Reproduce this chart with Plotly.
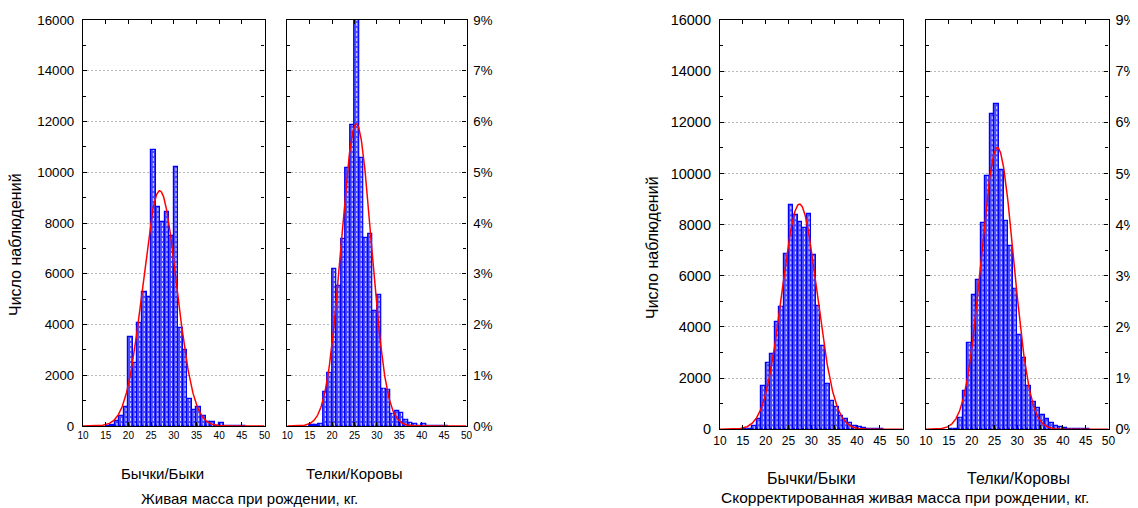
import numpy as np
import plotly.graph_objects as go

# ---------------- data ----------------
bin_left = list(range(15, 46))  # 1-kg bins, left edges 15..45

bulls_raw = [0, 30, 200, 400, 750, 3490, 2490, 4045, 5280, 5100, 10875, 8620, 8050, 8450, 7490,
             10210, 3850, 2985, 1060, 620, 755, 400, 170, 170, 0, 100, 0, 0, 0, 0, 0]
cows_raw = [20, 20, 90, 1340, 2090, 6175, 5520, 7360, 10165, 11850, 16400, 10560, 7400, 7560, 4540,
            5150, 1475, 1435, 490, 590, 515, 250, 130, 90, 0, 90, 0, 0, 0, 0, 0]
bulls_adj = [0, 20, 130, 400, 1710, 2600, 2930, 4180, 4800, 6870, 8780, 8380, 8090, 7860, 8400,
             6800, 4830, 3250, 1780, 1120, 880, 530, 400, 240, 120, 90, 40, 20, 10, 10, 10]
cows_adj = [0, 20, 460, 1505, 3380, 5250, 5840, 8050, 9920, 12320, 12700, 10120, 8150, 7150, 5500,
            3680, 2790, 1700, 1060, 825, 560, 390, 235, 145, 80, 40, 20, 10, 0, 0, 0]

# fitted normal curves: (mean, sd, N)
fit_bulls_raw = (26.9, 3.7, 86000)
fit_cows_raw = (25.4, 3.35, 100000)
fit_bulls_adj = (27.4, 3.85, 85000)
fit_cows_adj = (25.65, 3.55, 98000)

count_ticks = [0, 2000, 4000, 6000, 8000, 10000, 12000, 14000, 16000]
count_labels = [str(v) for v in count_ticks]
pct_labels = ["0%", "1%", "2%", "3%", "4%", "5%", "6%", "7%", "9%"]
x_ticks = [10, 15, 20, 25, 30, 35, 40, 45, 50]

group_names = ["Бычки/Быки", "Телки/Коровы"]
title_left = "Живая масса при рождении, кг."
title_right = "Скорректированная живая масса при рождении, кг."
y_title = "Число наблюдений"

# ---------------- figure ----------------
W, H = 1138, 508
OFF = 8  # page body margin offset
FONT = "Liberation Sans, Arial, sans-serif"

def px_x(a, b):
    return [(a - OFF) / W, (b - OFF) / W]

def px_y(top, bottom):
    return [1 - (bottom - OFF) / H, 1 - (top - OFF) / H]

panels = [
    dict(data=bulls_raw, fit=fit_bulls_raw, xd=px_x(83, 264.5), yd=px_y(20, 426), side="left", lab=count_labels, xf=10, yf=13.3, so=5),
    dict(data=cows_raw, fit=fit_cows_raw, xd=px_x(287.3, 466.5), yd=px_y(20, 426), side="right", lab=pct_labels, xf=10, yf=13.3, so=3),
    dict(data=bulls_adj, fit=fit_bulls_adj, xd=px_x(720, 902.7), yd=px_y(20, 429.3), side="left", lab=count_labels, xf=12, yf=14.5, so=5),
    dict(data=cows_adj, fit=fit_cows_adj, xd=px_x(926, 1108.5), yd=px_y(20, 429.3), side="right", lab=pct_labels, xf=12, yf=14.5, so=3),
]

fig = go.Figure()
centers = [b + 0.5 for b in bin_left]
xs_curve = np.linspace(10, 50, 401)

for i, p in enumerate(panels):
    k = "" if i == 0 else str(i + 1)
    xa, ya = "x" + k, "y" + k
    fig.add_trace(go.Bar(
        x=centers, y=p["data"], width=1.0, xaxis=xa, yaxis=ya,
        marker=dict(color="#4a4aff", line=dict(color="#0000ff", width=1.2)),
        showlegend=False, hoverinfo="x+y"))
    # white dashed hatch line in the middle of each bar
    hx, hy = [], []
    for c, v in zip(centers, p["data"]):
        if v > 60:
            hx += [c, c, None]
            hy += [0, v, None]
    fig.add_trace(go.Scatter(
        x=hx, y=hy, mode="lines", xaxis=xa, yaxis=ya,
        line=dict(color="rgba(255,255,255,0.85)", width=1, dash="3px,2px"),
        showlegend=False, hoverinfo="skip"))
    m, s, n = p["fit"]
    yc = n / (s * np.sqrt(2 * np.pi)) * np.exp(-0.5 * ((xs_curve - m) / s) ** 2)
    fig.add_trace(go.Scatter(
        x=xs_curve, y=yc, mode="lines", xaxis=xa, yaxis=ya,
        line=dict(color="#ff0000", width=1.5), showlegend=False, hoverinfo="skip"))

    fig.layout["xaxis" + k] = dict(
        domain=p["xd"], anchor=ya, range=[10, 50], tickvals=x_ticks, automargin=False,
        ticks="inside", ticklen=4, tickcolor="black", showline=True, linecolor="black",
        linewidth=1.2, mirror="allticks", showgrid=False, zeroline=False,
        tickfont=dict(family=FONT, size=p["xf"], color="black"))
    fig.layout["yaxis" + k] = dict(
        domain=p["yd"], anchor=xa, range=[0, 16000], tickvals=count_ticks, ticktext=p["lab"],
        side=p["side"], ticks="inside", ticklen=4, tickcolor="black", showline=True, automargin=False,
        linecolor="black", linewidth=1.2, mirror="allticks", showgrid=True,
        gridcolor="#b8b8b8", griddash="2px,2px", gridwidth=1, zeroline=False,
        ticklabelstandoff=p["so"],
        minor=dict(dtick=1000, ticks="inside", ticklen=3, tickcolor="black", showgrid=False),
        tickfont=dict(family=FONT, size=p["yf"], color="black"))

ann = []
def add_text(x, y, t, size, angle=0):
    ann.append(dict(x=(x - OFF) / W, y=1 - (y - OFF) / H, xref="paper", yref="paper", text=t,
                    showarrow=False, xanchor="center", yanchor="middle", textangle=angle,
                    font=dict(family=FONT, size=size, color="black")))

add_text(162, 473, group_names[0], 15)
add_text(354, 473, group_names[1], 15)
add_text(249, 498, title_left, 15)
add_text(811, 478, group_names[0], 16)
add_text(1018, 478, group_names[1], 16)
add_text(905, 497.5, title_right, 15.5)
add_text(15, 245, y_title, 16, -90)
add_text(652, 248, y_title, 16, -90)

fig.update_layout(
    width=W, height=H, margin=dict(l=0, r=0, t=0, b=0, pad=0, autoexpand=False),
    paper_bgcolor="white", plot_bgcolor="white", bargap=0,
    annotations=ann, showlegend=False)

fig.write_html("out.html")
